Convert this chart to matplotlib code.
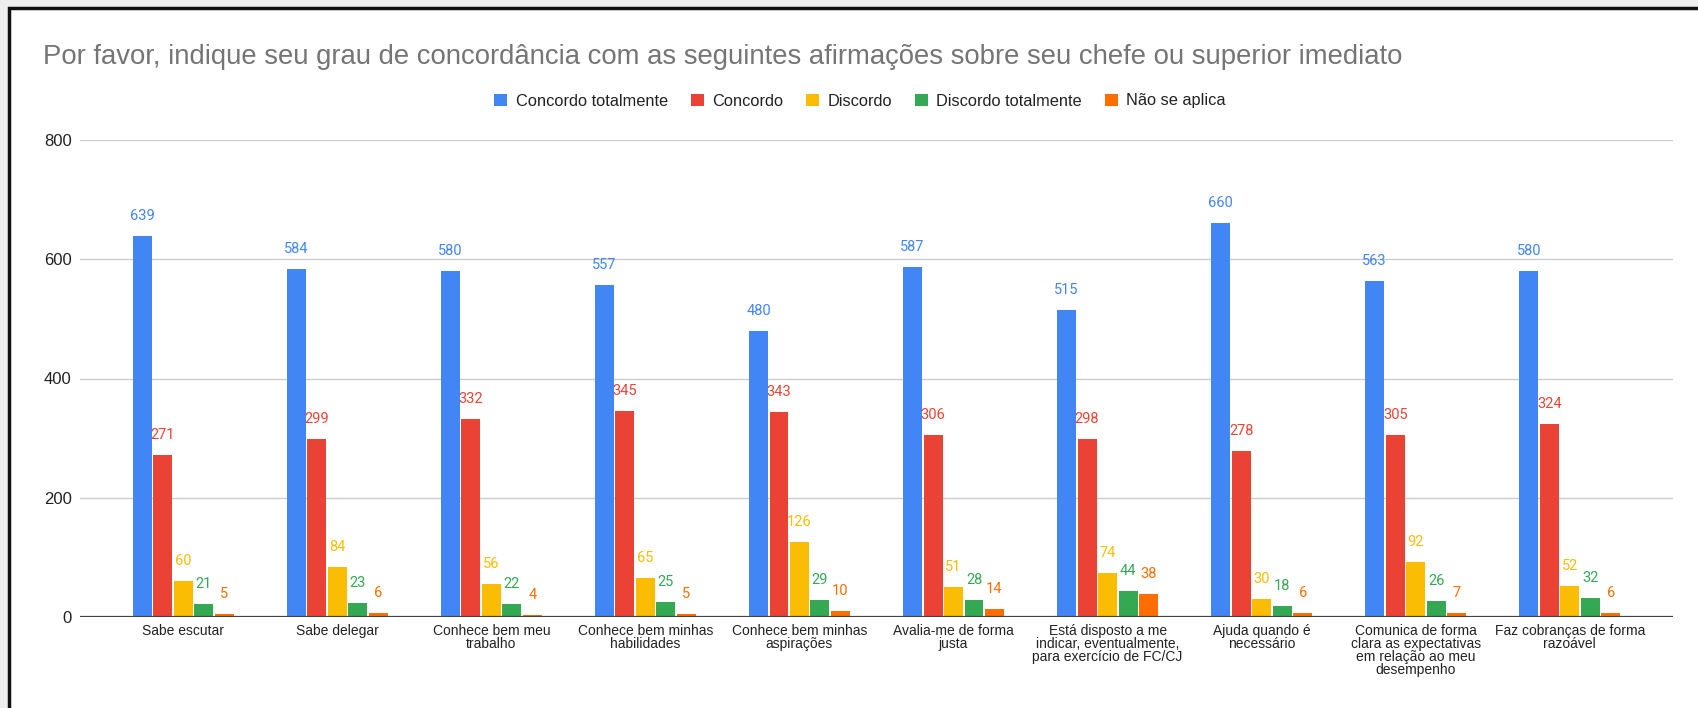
import numpy as np
import matplotlib.pyplot as plt
from matplotlib.patches import Patch, Rectangle

plt.rcParams['font.family'] = ['Liberation Sans', 'DejaVu Sans']

title = 'Por favor, indique seu grau de concordância com as seguintes afirmações sobre seu chefe ou superior imediato'

categories = [
    'Sabe escutar',
    'Sabe delegar',
    'Conhece bem meu\ntrabalho',
    'Conhece bem minhas\nhabilidades',
    'Conhece bem minhas\naspirações',
    'Avalia-me de forma\njusta',
    'Está disposto a me\nindicar, eventualmente,\npara exercício de FC/CJ',
    'Ajuda quando é\nnecessário',
    'Comunica de forma\nclara as expectativas\nem relação ao meu\ndesempenho',
    'Faz cobranças de forma\nrazoável',
]

series_names = ['Concordo totalmente', 'Concordo', 'Discordo', 'Discordo totalmente', 'Não se aplica']
concordo_totalmente = [639, 584, 580, 557, 480, 587, 515, 660, 563, 580]
concordo = [271, 299, 332, 345, 343, 306, 298, 278, 305, 324]
discordo = [60, 84, 56, 65, 126, 51, 74, 30, 92, 52]
discordo_totalmente = [21, 23, 22, 25, 29, 28, 44, 18, 26, 32]
nao_se_aplica = [5, 6, 4, 5, 10, 14, 38, 6, 7, 6]
colors = ['#4285F4', '#EA4335', '#FBBC04', '#34A853', '#FF6D01']

y_ticks = [0, 200, 400, 600, 800]

all_series = [concordo_totalmente, concordo, discordo, discordo_totalmente, nao_se_aplica]

W, H = 1698, 708
fig = plt.figure(figsize=(W / 100, H / 100), dpi=100)
fig.patch.set_facecolor('#eeeeee')

# white card with a dark frame on the top and left
card = Rectangle((9 / W, -0.1), 1.2, 1.1 - 8 / H, transform=fig.transFigure,
                 facecolor='white', edgecolor='#111111', linewidth=2.5, zorder=-1)
fig.patches.append(card)

ax = fig.add_axes([80 / W, 1 - 617 / H, (1673 - 80) / W, (617 - 140) / H])
ax.patch.set_visible(False)

x = np.arange(len(categories))
slot = 0.133
width = 0.123
for i, (vals, c) in enumerate(zip(all_series, colors)):
    xs = x + (i - 2) * slot
    ax.bar(xs, vals, width=width, color=c, zorder=3)
    for xi, v in zip(xs, vals):
        ax.annotate(str(v), (xi, v), xytext=(0, 14.4), textcoords='offset points',
                    ha='center', va='center', fontsize=10.5, color=c,
                    family=['Roboto', 'DejaVu Sans'], zorder=4)

ax.set_xlim(-0.67, 9.67)
ax.set_ylim(0, 800)
ax.set_yticks(y_ticks)
ax.set_yticklabels([str(t) for t in y_ticks], fontsize=12, color='#222222')
ax.set_xticks(x)
ax.set_xticklabels(categories, fontsize=10, color='#222222', linespacing=0.92, va='top')
ax.tick_params(axis='both', length=0)
ax.tick_params(axis='y', pad=6)
ax.tick_params(axis='x', pad=5)
for s in ax.spines.values():
    s.set_visible(False)
ax.grid(axis='y', color='#cccccc', linewidth=1, zorder=0)
ax.axhline(0, color='#444444', linewidth=1.6, zorder=5)

fig.text(43 / W, 1 - 57 / H, title, fontsize=19.8, color='#757575', ha='left', va='center')

handles = [Patch(facecolor=c, edgecolor='none') for c in colors]
leg = fig.legend(handles, series_names, loc='center', bbox_to_anchor=(860 / W, 1 - 101 / H),
                 ncol=5, frameon=False, fontsize=11.8, handlelength=0.8, handleheight=0.8,
                 handletextpad=0.5, columnspacing=1.4)
for t in leg.get_texts():
    t.set_color('#222222')

fig.savefig('out.png', dpi=100)
